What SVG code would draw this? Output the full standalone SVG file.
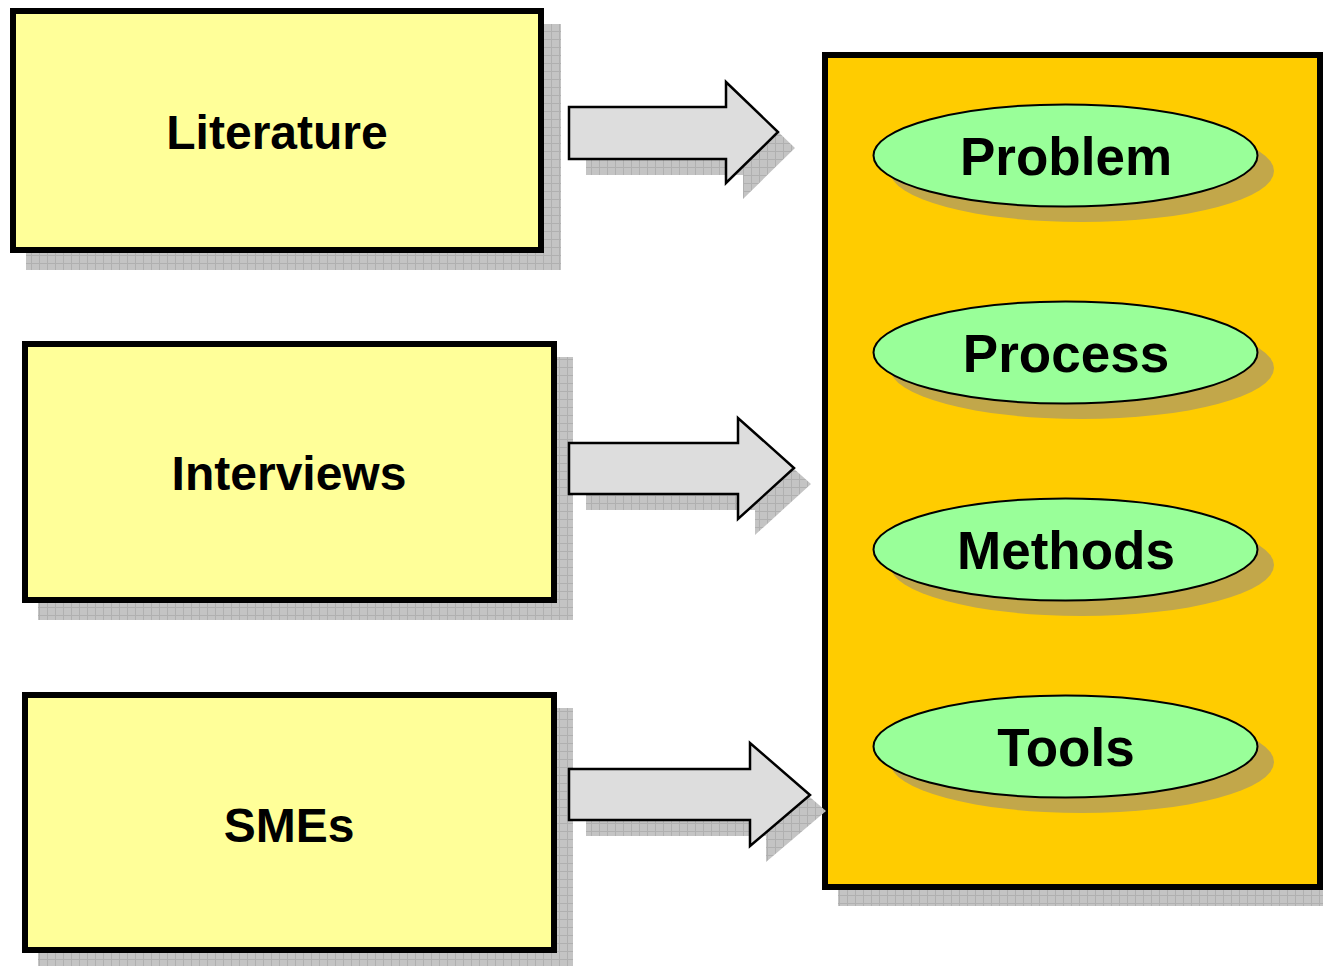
<svg xmlns="http://www.w3.org/2000/svg" width="1323" height="966" viewBox="0 0 1323 966">
<defs>
<pattern id="grid" width="8" height="8" patternUnits="userSpaceOnUse">
<rect width="8" height="8" fill="#c4c4c4"/>
<path d="M0 7.5H8M7.5 0V8" stroke="#b0b0b0" stroke-width="1"/>
</pattern>
<style>
.box{fill:#ffff99;stroke:#000;stroke-width:6}
.shadow{fill:url(#grid)}
.arrow{fill:#dddddd;stroke:#000;stroke-width:2.5;stroke-linejoin:miter}
.ell{fill:#99ff99;stroke:#000;stroke-width:2}
.eshadow{fill:#c2a74a}
.t{font-family:"Liberation Sans",Arial,sans-serif;font-weight:bold;text-anchor:middle;fill:#000}
</style>
</defs>
<rect width="1323" height="966" fill="#fff"/>
<g id="literature">
<rect class="shadow" x="26" y="24" width="535" height="246"/>
<rect class="box" x="13" y="11" width="528" height="239"/>
<text class="t" x="277" y="149" font-size="48">Literature</text>
</g>
<g id="interviews">
<rect class="shadow" x="38" y="357" width="535" height="263"/>
<rect class="box" x="25" y="344" width="529" height="256"/>
<text class="t" x="289" y="490" font-size="48">Interviews</text>
</g>
<g id="smes">
<rect class="shadow" x="38" y="708" width="535" height="258"/>
<rect class="box" x="25" y="695" width="529" height="255"/>
<text class="t" x="289" y="842" font-size="48">SMEs</text>
</g>
<g id="framework">
<rect class="shadow" x="838" y="68" width="485" height="838"/>
<rect class="box" x="825" y="55" width="495" height="832" style="fill:#ffcc00"/>
</g>
<g id="problem">
<ellipse class="eshadow" cx="1082" cy="171" rx="192" ry="51"/>
<ellipse class="ell" cx="1065.5" cy="155.5" rx="192" ry="51"/>
<text class="t" x="1066" y="175" font-size="53">Problem</text>
</g>
<g id="process">
<ellipse class="eshadow" cx="1082" cy="368" rx="192" ry="51"/>
<ellipse class="ell" cx="1065.5" cy="352.5" rx="192" ry="51"/>
<text class="t" x="1066" y="372" font-size="53">Process</text>
</g>
<g id="methods">
<ellipse class="eshadow" cx="1082" cy="565" rx="192" ry="51"/>
<ellipse class="ell" cx="1065.5" cy="549.5" rx="192" ry="51"/>
<text class="t" x="1066" y="569" font-size="53">Methods</text>
</g>
<g id="tools">
<ellipse class="eshadow" cx="1082" cy="762" rx="192" ry="51"/>
<ellipse class="ell" cx="1065.5" cy="746.5" rx="192" ry="51"/>
<text class="t" x="1066" y="766" font-size="53">Tools</text>
</g>
<g id="connectors">
<polygon class="shadow" points="586,123 743,123 743,98 795,148 743,199 743,175 586,175"/>
<polygon class="arrow" points="569,107 726,107 726,82 778,132 726,183 726,159 569,159"/>
<polygon class="shadow" points="586,459 755,459 755,434 811,484 755,535 755,510 586,510"/>
<polygon class="arrow" points="569,443 738,443 738,418 794,468 738,519 738,494 569,494"/>
<polygon class="shadow" points="586,785 766,785 766,759 826,811 766,862 766,836 586,836"/>
<polygon class="arrow" points="569,769 750,769 750,743 810,795 750,846 750,820 569,820"/>
</g>
</svg>
